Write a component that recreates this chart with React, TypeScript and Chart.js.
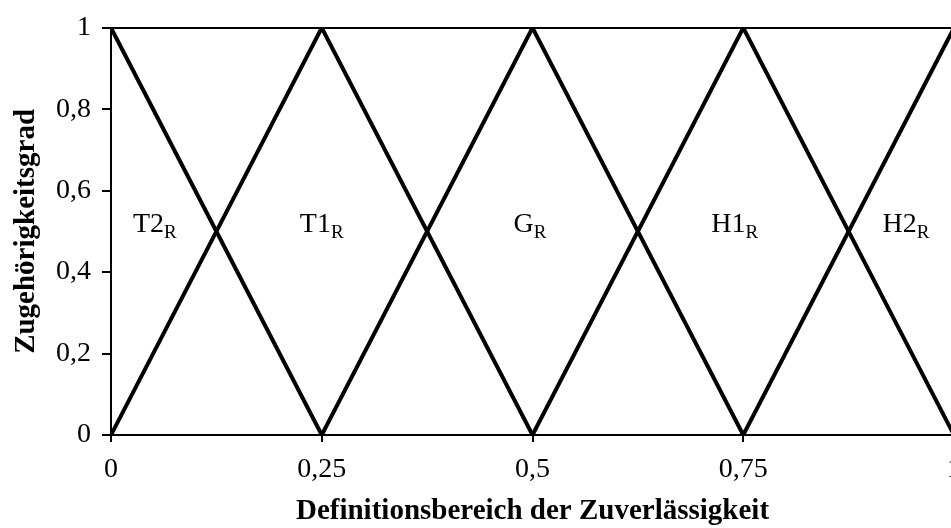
import React, { useEffect, useRef } from "react";
import { Chart, registerables } from "chart.js";

Chart.register(...registerables);

// Membership functions (x, y) corner points
const T2_R = [[0, 1], [0.25, 0]];
const T1_R = [[0, 0], [0.25, 1], [0.5, 0]];
const G_R = [[0.25, 0], [0.5, 1], [0.75, 0]];
const H1_R = [[0.5, 0], [0.75, 1], [1, 0]];
const H2_R = [[0.75, 0], [1, 1]];

const seriesList = [T2_R, T1_R, G_R, H1_R, H2_R];

// Text labels: main part, subscript, centre x value, y value
const labelMain = ["T2", "T1", "G", "H1", "H2"];
const labelSub = ["R", "R", "R", "R", "R"];
const labelX = [0.052, 0.25, 0.497, 0.74, 0.943];
const labelY = [0.5, 0.5, 0.5, 0.5, 0.5];

const xTickLabels = ["0", "0,25", "0,5", "0,75", "1"];
const yTickLabels = ["0", "0,2", "0,4", "0,6", "0,8", "1"];

const xTitle = "Definitionsbereich der Zuverlässigkeit";
const yTitle = "Zugehörigkeitsgrad";

const FONT = "'Liberation Serif', 'Times New Roman', Times, serif";

const labelPlugin = {
  id: "fuzzyLabels",
  afterDatasetsDraw(chart: any) {
    const { ctx, scales } = chart;
    const xs = scales.x;
    const ys = scales.y;
    ctx.save();
    ctx.fillStyle = "#000";
    ctx.textBaseline = "alphabetic";
    for (let i = 0; i < labelMain.length; i++) {
      ctx.font = `28px ${FONT}`;
      const wMain = ctx.measureText(labelMain[i]).width;
      ctx.font = `19px ${FONT}`;
      const wSub = ctx.measureText(labelSub[i]).width;
      const cx = xs.getPixelForValue(labelX[i]);
      const cy = ys.getPixelForValue(labelY[i]);
      const start = cx - (wMain + wSub) / 2;
      ctx.font = `28px ${FONT}`;
      ctx.textAlign = "left";
      ctx.fillText(labelMain[i], start, cy + 1);
      ctx.font = `19px ${FONT}`;
      ctx.fillText(labelSub[i], start + wMain, cy + 7);
    }
    ctx.restore();
  },
};

export default function App() {
  const ref = useRef<HTMLCanvasElement | null>(null);

  useEffect(() => {
    if (!ref.current) return;
    const chart = new Chart(ref.current, {
      type: "scatter",
      data: {
        datasets: seriesList.map((s) => ({
          data: s.map((p) => ({ x: p[0], y: p[1] })),
          showLine: true,
          borderColor: "#000",
          backgroundColor: "#000",
          borderWidth: 4,
          pointRadius: 0,
          pointHoverRadius: 0,
          fill: false,
          tension: 0,
        })),
      },
      options: {
        animation: false,
        responsive: false,
        events: [],
        layout: { padding: { left: 0, top: 26, right: 46, bottom: 0 } },
        plugins: {
          legend: { display: false },
          tooltip: { enabled: false },
        },
        scales: {
          x: {
            type: "linear",
            min: 0,
            max: 1,
            afterFit: (scale: any) => {
              scale.height = 93;
            },
            ticks: {
              stepSize: 0.25,
              color: "#000",
              padding: 11,
              maxRotation: 0,
              font: { family: FONT, size: 28 },
              callback: (_v: any, i: number) => xTickLabels[i],
            },
            grid: {
              drawOnChartArea: false,
              drawTicks: true,
              tickLength: 7,
              tickColor: "#000",
              lineWidth: 2,
            },
            border: { display: true, color: "#000", width: 2 },
            title: {
              display: true,
              text: xTitle,
              color: "#000",
              font: { family: FONT, size: 29, weight: "bold", lineHeight: 1 },
              padding: { top: 0, bottom: 2 },
            },
          },
          y: {
            type: "linear",
            min: 0,
            max: 1,
            afterFit: (scale: any) => {
              scale.width = 111;
            },
            ticks: {
              stepSize: 0.2,
              color: "#000",
              padding: 11,
              font: { family: FONT, size: 28 },
              callback: (_v: any, i: number) => yTickLabels[i],
            },
            grid: {
              drawOnChartArea: true,
              drawTicks: true,
              tickLength: 9,
              tickColor: "#000",
              lineWidth: 2,
              color: (c: any) =>
                c.tick && c.tick.value === 1 ? "#000" : "rgba(0,0,0,0)",
            },
            border: { display: true, color: "#000", width: 2 },
            title: {
              display: true,
              text: yTitle,
              color: "#000",
              font: { family: FONT, size: 29, weight: "bold", lineHeight: 1 },
              padding: { top: 12, bottom: 0 },
            },
          },
        },
      },
      plugins: [labelPlugin],
    });
    return () => chart.destroy();
  }, []);

  return (
    <div
      style={{
        position: "fixed",
        left: 0,
        top: 0,
        width: 951,
        height: 528,
        overflow: "hidden",
        background: "#fff",
      }}
    >
      <canvas ref={ref} width={1000} height={528} style={{ display: "block" }} />
    </div>
  );
}
